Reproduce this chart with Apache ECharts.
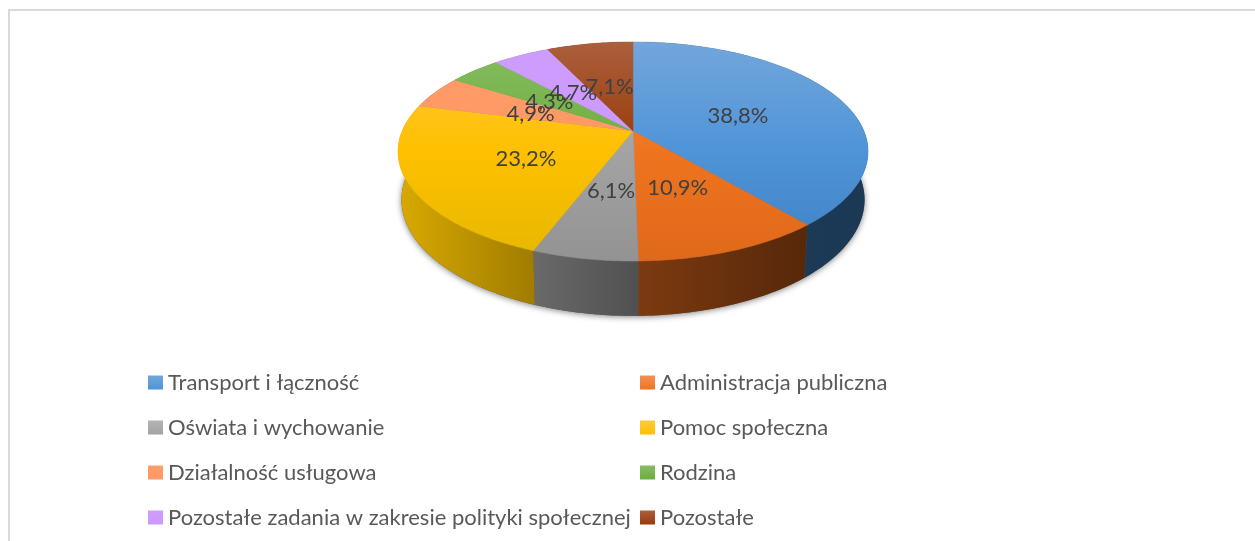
<!DOCTYPE html>
<html>
<head>
<meta charset="utf-8">
<title>Wykres</title>
<style>
  html, body { margin: 0; padding: 0; background: #fff; }
  #chart { width: 1255px; height: 541px; }
</style>
<script src="https://cdn.jsdelivr.net/npm/echarts@6/dist/echarts.min.js"></script>
</head>
<body>
<div id="chart"></div>
<script>
const categories = [
  'Transport i łączność',
  'Administracja publiczna',
  'Oświata i wychowanie',
  'Pomoc społeczna',
  'Działalność usługowa',
  'Rodzina',
  'Pozostałe zadania w zakresie polityki społecznej',
  'Pozostałe'
]
const values = [38.8, 10.9, 6.1, 23.2, 4.9, 4.3, 4.7, 7.1]

// top face: light, base, dark
const topColors = [
  ['#72a6dc', '#4f94d8', '#3f80c2'],
  ['#f39055', '#ee741f', '#e0681a'],
  ['#b4b4b4', '#a3a3a3', '#939393'],
  ['#ffc93f', '#ffc000', '#e6b800'],
  ['#ff9c69', '#ff9966', '#ff9966'],
  ['#88bd62', '#6cae3c', '#6cae3c'],
  ['#cd9dfc', '#cc99ff', '#cc99ff'],
  ['#ab5f3c', '#993a08', '#963300']
]
// side wall: left, right
const wallColors = [
  ['#1d3c5a', '#1b3954'],
  ['#7c3a10', '#56280a'],
  ['#6a6a6a', '#505050'],
  ['#d9aa00', '#a07c00'],
  ['#8a5030', '#8a5030'],
  ['#3f6428', '#3f6428'],
  ['#7a5a99', '#7a5a99'],
  ['#5a1f00', '#5a1f00']
]

// the pie is seen in perspective, so its centre sits above the middle of the ellipse
const pie = { cx: 633, cy: 131, rx: 230.9, ry: 105.7, k: -0.187 }
const base = { cy: 178, xScale: 0.985, yScale: 1.06 }

function project(deg, r, face) {
  const t = deg * Math.PI / 180
  const u = r * Math.sin(t)
  const v = -r * Math.cos(t)
  const d = 1 + pie.k * v
  if (face === 'base') {
    return [pie.cx + base.xScale * pie.rx * u / d, base.cy + base.yScale * pie.ry * v / d]
  }
  return [pie.cx + pie.rx * u / d, pie.cy + pie.ry * v / d]
}

function rim(from, to, face) {
  const pts = []
  const n = Math.max(2, Math.ceil(to - from))
  for (let i = 0; i <= n; i++) {
    pts.push(project(from + (to - from) * i / n, 1, face))
  }
  return pts
}

function topFill(c) {
  return {
    type: 'linear', global: true, x: 0, y: 42, x2: 0, y2: 261,
    colorStops: [{ offset: 0, color: c[0] }, { offset: 0.5, color: c[1] }, { offset: 1, color: c[2] }]
  }
}

function renderSlice(idx, params, api) {
  const from = api.value(0)
  const to = api.value(1)
  const top = rim(from, to, 'top')
  const bottom = rim(from, to, 'base').reverse()
  const xs = top.concat(bottom).map(p => p[0])
  const wall = wallColors[idx]
  const wallFill = {
    type: 'linear', global: true,
    x: Math.min.apply(null, xs), y: 0, x2: Math.max.apply(null, xs), y2: 0,
    colorStops: [{ offset: 0, color: wall[0] }, { offset: 1, color: wall[1] }]
  }
  const fill = topFill(topColors[idx])
  const mid = project((from + to) / 2, 0.5, 'top')
  return {
    type: 'group',
    children: [
      {
        type: 'polygon', z2: 1,
        shape: { points: top.concat(bottom) },
        style: { fill: wallFill }
      },
      {
        type: 'polygon', z2: 2,
        shape: { points: [[pie.cx, pie.cy]].concat(top) },
        style: { fill: fill, stroke: fill, lineWidth: 0.5 }
      },
      {
        type: 'text', z2: 3,
        style: {
          x: mid[0], y: mid[1] + 3,
          text: api.value(2).toFixed(1).replace('.', ',') + '%',
          align: 'center', verticalAlign: 'middle',
          fill: '#404040', font: '22px Lato'
        }
      }
    ]
  }
}

const chart = echarts.init(document.getElementById('chart'))

let running = 0
const series = categories.map((name, i) => {
  const from = running * 3.6
  running += values[i]
  return {
    name: name,
    type: 'custom',
    coordinateSystem: 'none',
    silent: true,
    itemStyle: {
      color: {
        type: 'linear', x: 0, y: 0, x2: 0, y2: 1,
        colorStops: [{ offset: 0, color: topColors[i][0] }, { offset: 1, color: topColors[i][1] }]
      }
    },
    renderItem: (params, api) => renderSlice(i, params, api),
    data: [[from, running * 3.6, values[i]]]
  }
})

// soft shadow under the whole pie
series.unshift({
  type: 'custom',
  coordinateSystem: 'none',
  silent: true,
  renderItem: () => ({
    type: 'polygon', z2: 0,
    shape: { points: rim(0, 360, 'base') },
    style: { fill: '#555', shadowBlur: 6, shadowColor: 'rgba(0,0,0,0.5)', shadowOffsetY: 1 }
  }),
  data: [[0]]
})

const legendBase = {
  orient: 'vertical',
  icon: 'rect',
  top: 365,
  itemWidth: 15,
  itemHeight: 14,
  itemGap: 20,
  selectedMode: false,
  textStyle: { color: '#595959', fontFamily: 'Lato', fontSize: 22, lineHeight: 25 }
}

chart.setOption({
  animation: false,
  backgroundColor: '#fff',
  legend: [
    Object.assign({ left: 143, data: categories.filter((c, i) => i % 2 === 0) }, legendBase),
    Object.assign({ left: 635, data: categories.filter((c, i) => i % 2 === 1) }, legendBase)
  ],
  graphic: [{
    type: 'polyline',
    silent: true,
    shape: { points: [[9, 541], [9, 10], [1255, 10]] },
    style: { fill: null, stroke: '#d9d9d9', lineWidth: 2 }
  }],
  series: series
})
</script>
</body>
</html>
